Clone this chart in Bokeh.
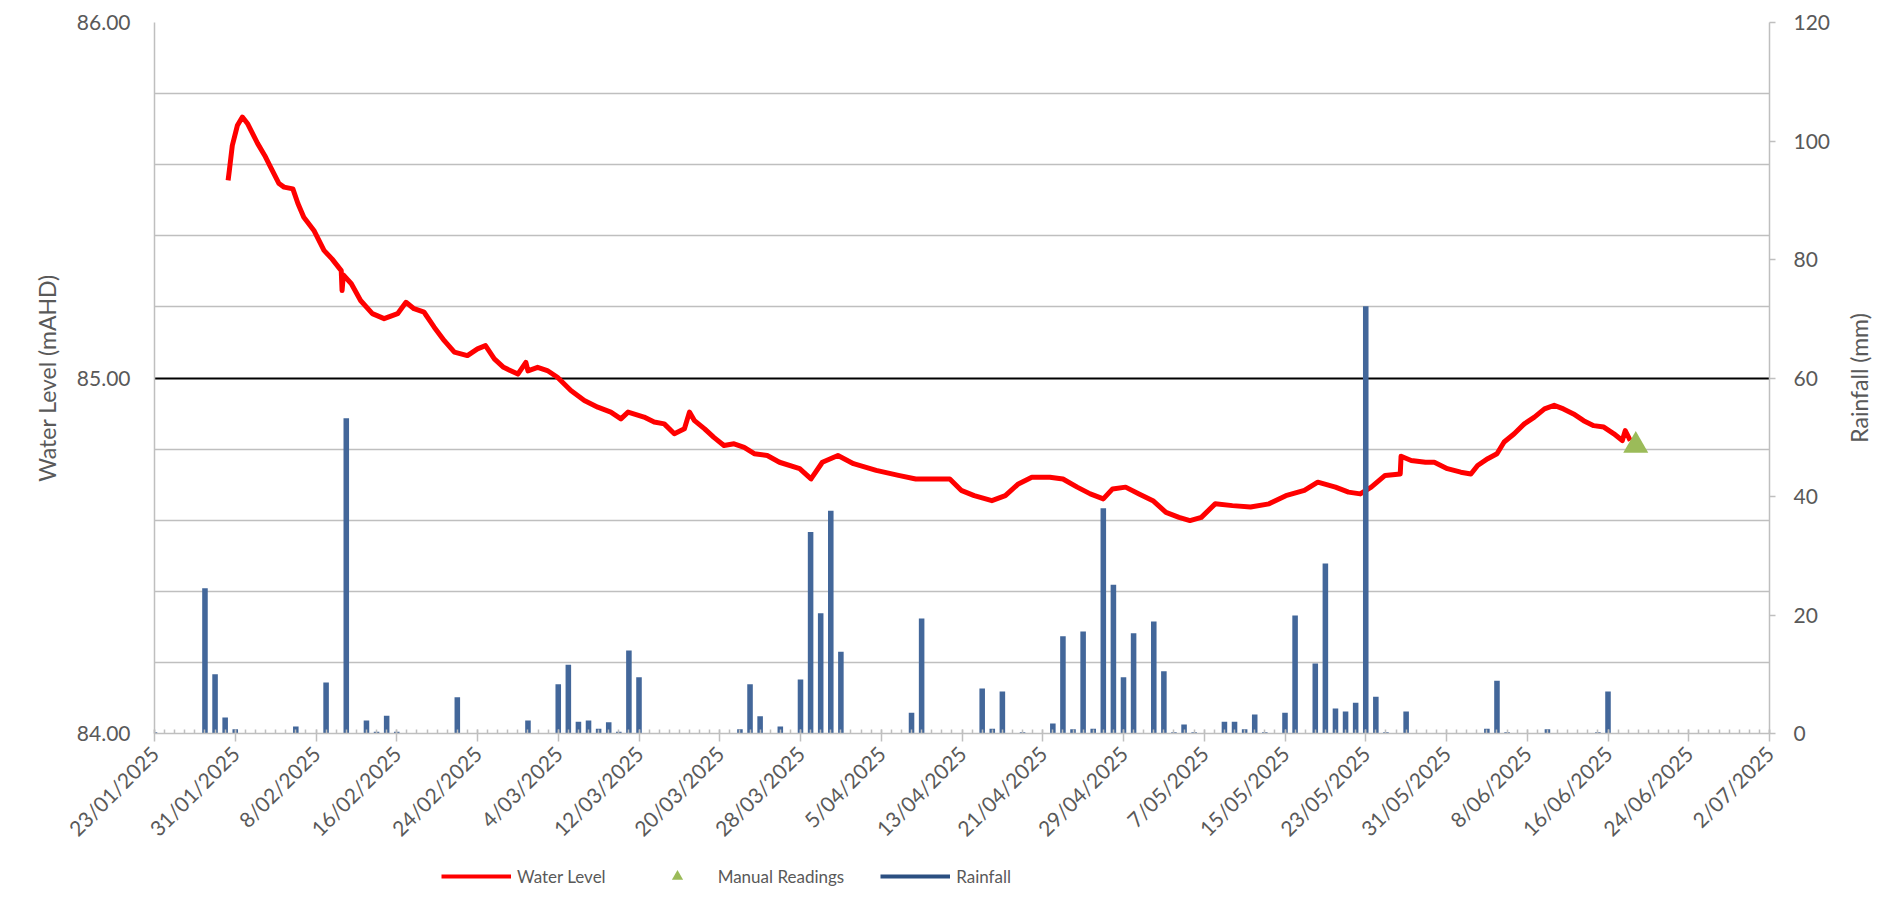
import math
import pandas as pd
from bokeh.plotting import figure
from bokeh.layouts import column, row
from bokeh.models import (Range1d, LinearAxis, FixedTicker, PrintfTickFormatter,
                          DatetimeTickFormatter, ColumnDataSource, Legend, LegendItem, Label)
from bokeh.embed import file_html
from bokeh.resources import INLINE

# ---------------- data ----------------
x_start = "2025-01-23"
x_end = "2025-07-02"

x_tick_dates = ["2025-01-23", "2025-01-31", "2025-02-08", "2025-02-16", "2025-02-24",
                "2025-03-04", "2025-03-12", "2025-03-20", "2025-03-28", "2025-04-05",
                "2025-04-13", "2025-04-21", "2025-04-29", "2025-05-07", "2025-05-15",
                "2025-05-23", "2025-05-31", "2025-06-08", "2025-06-16", "2025-06-24",
                "2025-07-02"]
x_tick_labels = ["23/01/2025", "31/01/2025", "8/02/2025", "16/02/2025", "24/02/2025",
                 "4/03/2025", "12/03/2025", "20/03/2025", "28/03/2025", "5/04/2025",
                 "13/04/2025", "21/04/2025", "29/04/2025", "7/05/2025", "15/05/2025",
                 "23/05/2025", "31/05/2025", "8/06/2025", "16/06/2025", "24/06/2025",
                 "2/07/2025"]

left_ticks = [84.0, 85.0, 86.0]
left_minor = [84.2, 84.4, 84.6, 84.8, 85.2, 85.4, 85.6, 85.8]
right_ticks = [0, 20, 40, 60, 80, 100, 120]

rain_dates = ["2025-01-23", "2025-01-28", "2025-01-29", "2025-01-30", "2025-01-31",
              "2025-02-06", "2025-02-09", "2025-02-11", "2025-02-13", "2025-02-14",
              "2025-02-15", "2025-02-16", "2025-02-22", "2025-03-01", "2025-03-04",
              "2025-03-05", "2025-03-06", "2025-03-07", "2025-03-08", "2025-03-09",
              "2025-03-10", "2025-03-11", "2025-03-12", "2025-03-22", "2025-03-23",
              "2025-03-24", "2025-03-26", "2025-03-28", "2025-03-29", "2025-03-30",
              "2025-03-31", "2025-04-01", "2025-04-08", "2025-04-09", "2025-04-15",
              "2025-04-16", "2025-04-17", "2025-04-19", "2025-04-22", "2025-04-23",
              "2025-04-24", "2025-04-25", "2025-04-26", "2025-04-27", "2025-04-28",
              "2025-04-29", "2025-04-30", "2025-05-02", "2025-05-03", "2025-05-04",
              "2025-05-05", "2025-05-06", "2025-05-09", "2025-05-10", "2025-05-11",
              "2025-05-12", "2025-05-13", "2025-05-15", "2025-05-16", "2025-05-18",
              "2025-05-19", "2025-05-20", "2025-05-21", "2025-05-22", "2025-05-23",
              "2025-05-24", "2025-05-25", "2025-05-27", "2025-06-04", "2025-06-05",
              "2025-06-06", "2025-06-10", "2025-06-15", "2025-06-16"]
rain_mm = [0.2, 24.5, 10.0, 2.7, 0.7,
           1.2, 8.6, 53.2, 2.2, 0.3,
           3.0, 0.3, 6.1, 2.2, 8.3,
           11.6, 2.0, 2.2, 0.8, 1.9,
           0.3, 14.0, 9.5, 0.7, 8.3,
           2.9, 1.2, 9.1, 34.0, 20.3,
           37.6, 13.8, 3.5, 19.4, 7.6,
           0.8, 7.1, 0.2, 1.7, 16.4,
           0.7, 17.2, 0.8, 38.0, 25.1,
           9.5, 16.9, 18.9, 10.5, 0.2,
           1.5, 0.2, 2.0, 2.0, 0.7,
           3.2, 0.2, 3.5, 19.9, 11.8,
           28.7, 4.2, 3.7, 5.2, 72.1,
           6.2, 0.2, 3.7, 0.8, 8.9,
           0.2, 0.7, 0.2, 7.1]

level_times = ["2025-01-30 07:00", "2025-01-30 10:00", "2025-01-30 17:00", "2025-01-31 05:00",
               "2025-01-31 17:00", "2025-02-01 05:00", "2025-02-01 17:00", "2025-02-02 05:00",
               "2025-02-02 22:00", "2025-02-03 12:00", "2025-02-04 08:00", "2025-02-04 20:00",
               "2025-02-05 17:00", "2025-02-06 05:00", "2025-02-06 19:00", "2025-02-07 19:00",
               "2025-02-08 19:00", "2025-02-09 14:00", "2025-02-10 12:00", "2025-02-10 14:00",
               "2025-02-10 17:00", "2025-02-11 12:00", "2025-02-12 10:00", "2025-02-13 14:00",
               "2025-02-14 18:00", "2025-02-16 02:00", "2025-02-16 22:00", "2025-02-17 17:00",
               "2025-02-18 17:00", "2025-02-19 17:00", "2025-02-20 17:00", "2025-02-21 17:00",
               "2025-02-23 00:00", "2025-02-24 00:00", "2025-02-24 19:00", "2025-02-25 16:00",
               "2025-02-26 14:00", "2025-02-28 00:00", "2025-02-28 19:00", "2025-03-01 00:00",
               "2025-03-01 23:00", "2025-03-02 22:00", "2025-03-03 22:00", "2025-03-05 06:00",
               "2025-03-06 14:00", "2025-03-07 22:00", "2025-03-09 05:00", "2025-03-10 05:00",
               "2025-03-10 22:00", "2025-03-12 12:00", "2025-03-13 12:00", "2025-03-14 12:00",
               "2025-03-15 12:00", "2025-03-16 12:00", "2025-03-17 00:00", "2025-03-17 12:00",
               "2025-03-18 12:00", "2025-03-19 10:00", "2025-03-20 10:00", "2025-03-21 10:00",
               "2025-03-22 10:00", "2025-03-23 10:00", "2025-03-24 17:00", "2025-03-25 22:00",
               "2025-03-27 22:00", "2025-03-29 01:00", "2025-03-30 04:00", "2025-03-31 17:00",
               "2025-04-02 06:00", "2025-04-04 12:00", "2025-04-06 17:00", "2025-04-08 10:00",
               "2025-04-10 16:00", "2025-04-11 19:00", "2025-04-12 22:00", "2025-04-14 05:00",
               "2025-04-15 23:00", "2025-04-17 07:00", "2025-04-18 14:00", "2025-04-19 22:00",
               "2025-04-21 17:00", "2025-04-23 00:00", "2025-04-24 10:00", "2025-04-25 17:00",
               "2025-04-27 00:00", "2025-04-27 22:00", "2025-04-29 05:00", "2025-04-30 13:00",
               "2025-05-01 22:00", "2025-05-03 05:00", "2025-05-04 12:00", "2025-05-05 14:00",
               "2025-05-06 17:00", "2025-05-08 02:00", "2025-05-09 19:00", "2025-05-11 14:00",
               "2025-05-13 10:00", "2025-05-15 02:00", "2025-05-16 22:00", "2025-05-18 06:00",
               "2025-05-20 00:00", "2025-05-21 07:00", "2025-05-22 11:00", "2025-05-23 13:00",
               "2025-05-24 22:00", "2025-05-26 10:00", "2025-05-26 12:00", "2025-05-27 12:00",
               "2025-05-28 22:00", "2025-05-29 19:00", "2025-05-31 02:00", "2025-06-01 10:00",
               "2025-06-02 10:00", "2025-06-03 02:00", "2025-06-04 02:00", "2025-06-05 00:00",
               "2025-06-05 17:00", "2025-06-06 17:00", "2025-06-07 17:00", "2025-06-08 17:00",
               "2025-06-09 17:00", "2025-06-10 16:00", "2025-06-11 14:00", "2025-06-12 14:00",
               "2025-06-13 14:00", "2025-06-14 14:00", "2025-06-15 14:00", "2025-06-16 14:00",
               "2025-06-17 10:00", "2025-06-17 17:00", "2025-06-18 05:00"]
level_m = [85.556, 85.584, 85.654, 85.710,
           85.734, 85.716, 85.688, 85.660,
           85.626, 85.593, 85.547, 85.537,
           85.532, 85.491, 85.452, 85.415,
           85.359, 85.335, 85.302, 85.246,
           85.290, 85.265, 85.218, 85.181,
           85.167, 85.181, 85.213, 85.195,
           85.185, 85.143, 85.105, 85.073,
           85.063, 85.082, 85.091, 85.054,
           85.030, 85.011, 85.044, 85.020,
           85.030, 85.021, 85.002, 84.965,
           84.937, 84.918, 84.904, 84.885,
           84.904, 84.890, 84.876, 84.871,
           84.843, 84.857, 84.904, 84.880,
           84.857, 84.833, 84.810, 84.815,
           84.805, 84.787, 84.782, 84.763,
           84.745, 84.716, 84.763, 84.782,
           84.759, 84.740, 84.726, 84.716,
           84.716, 84.716, 84.684, 84.669,
           84.655, 84.669, 84.702, 84.721,
           84.721, 84.716, 84.693, 84.674,
           84.660, 84.688, 84.693, 84.674,
           84.655, 84.622, 84.608, 84.599,
           84.608, 84.646, 84.641, 84.637,
           84.646, 84.669, 84.684, 84.707,
           84.693, 84.679, 84.674, 84.693,
           84.726, 84.730, 84.780, 84.768,
           84.763, 84.763, 84.745, 84.735,
           84.730, 84.754, 84.773, 84.787,
           84.820, 84.843, 84.871, 84.890,
           84.913, 84.923, 84.913, 84.899,
           84.880, 84.866, 84.862, 84.843,
           84.824, 84.852, 84.824]

manual_times = ["2025-06-18 18:00"]
manual_m = [84.81]

legend_labels = ["Water Level", "Manual Readings", "Rainfall"]
left_title = "Water Level (mAHD)"
right_title = "Rainfall (mm)"

# ---------------- styles ----------------
FONT = "Lato"
TXT = "#595959"
GREY = "#BFBFBF"
BAR = "#43679A"
RED = "#FF0000"
GREEN = "#9BBB59"
NAVY = "#2B4F81"
DAY_MS = 86400000
W_MAIN = 1833
W_SIDE = 40
H_MAIN = 855
H_LEG = 35
B_TOP, B_BOT = 22, 122


def ms(s):
    return pd.Timestamp(s).value // 10**6


tick_ms = [ms(d) for d in x_tick_dates]
minor_ms = [ms(d) for d in pd.date_range(x_start, x_end, freq="D")]

p = figure(width=W_MAIN, height=H_MAIN, x_axis_type="datetime",
           x_range=Range1d(ms(x_start), ms(x_end)), y_range=Range1d(84, 86),
           output_backend="svg", toolbar_location=None,
           min_border_left=154, min_border_right=64, min_border_top=B_TOP,
           min_border_bottom=B_BOT)
p.outline_line_color = None
p.background_fill_color = "white"
p.border_fill_color = "white"
p.extra_y_ranges = {"rain": Range1d(0, 120)}

# grid
p.xgrid.visible = False
p.ygrid.ticker = FixedTicker(ticks=[85.0, 86.0], minor_ticks=left_minor)
p.ygrid.grid_line_color = "black"
p.ygrid.grid_line_width = 2
p.ygrid.minor_grid_line_color = GREY
p.ygrid.minor_grid_line_width = 1.5

# left axis
ya = p.yaxis[0]
ya.ticker = FixedTicker(ticks=left_ticks, minor_ticks=[])
ya.formatter = PrintfTickFormatter(format="%.2f")
ya.major_tick_in = 0
ya.major_tick_out = 0
ya.minor_tick_in = 0
ya.minor_tick_out = 0
ya.major_label_standoff = 24
ya.axis_label = left_title
ya.axis_label_standoff = 13

# right axis
ra = LinearAxis(y_range_name="rain", ticker=FixedTicker(ticks=right_ticks, minor_ticks=[]))
ra.major_tick_in = 0
ra.major_tick_out = 6
ra.minor_tick_in = 0
ra.minor_tick_out = 0
ra.major_label_standoff = 18
p.add_layout(ra, "right")

# bottom axis
xa = p.xaxis[0]
xa.ticker = FixedTicker(ticks=tick_ms, minor_ticks=minor_ms)
fmt = "%-d/%m/%Y"
xa.formatter = DatetimeTickFormatter(microseconds=fmt, milliseconds=fmt, seconds=fmt,
                                     minsec=fmt, minutes=fmt, hourmin=fmt, hours=fmt,
                                     days=fmt, months=fmt, years=fmt)
xa.major_label_overrides = {int(t): lab for t, lab in zip(tick_ms, x_tick_labels)}
xa.major_label_orientation = math.pi / 4
xa.major_tick_in = 4
xa.major_tick_out = 8
xa.minor_tick_in = 4
xa.minor_tick_out = 0
xa.major_label_standoff = 8

for ax in (xa, ya, ra):
    ax.axis_line_color = GREY
    ax.axis_line_width = 1.5
    ax.major_tick_line_color = GREY
    ax.major_tick_line_width = 1.5
    ax.minor_tick_line_color = GREY
    ax.minor_tick_line_width = 1.5
    ax.major_label_text_font = FONT
    ax.major_label_text_font_size = "21px"
    ax.major_label_text_color = TXT
    ax.axis_label_text_font = FONT
    ax.axis_label_text_font_size = "23px"
    ax.axis_label_text_font_style = "normal"
    ax.axis_label_text_color = TXT

# series
level_src = ColumnDataSource(dict(t=pd.to_datetime(level_times), v=level_m))
p.line(x="t", y="v", source=level_src, line_color=RED, line_width=5, line_join="round")

rain_src = ColumnDataSource(dict(t=pd.to_datetime(rain_dates), v=rain_mm))
p.vbar(x="t", top="v", bottom=0, width=0.55 * DAY_MS, source=rain_src,
       y_range_name="rain", fill_color=BAR, line_color=None)

man_src = ColumnDataSource(dict(t=pd.to_datetime(manual_times), v=manual_m))
p.scatter(x="t", y="v", source=man_src, marker="triangle", size=25,
          fill_color=GREEN, line_color=None)

# ---------------- right-axis title strip (reads bottom-to-top) ----------------
side = figure(width=W_SIDE, height=H_MAIN, output_backend="svg", toolbar_location=None,
              x_range=Range1d(0, 1), y_range=Range1d(0, 1),
              x_axis_location=None, y_axis_location=None,
              min_border_left=0, min_border_right=0,
              min_border_top=B_TOP, min_border_bottom=B_BOT)
side.outline_line_color = None
side.grid.visible = False
side.background_fill_color = "white"
side.border_fill_color = "white"
side.add_layout(Label(x=25, y=(H_MAIN - B_TOP - B_BOT) / 2, x_units="screen",
                      y_units="screen", text=right_title, angle=math.pi / 2,
                      text_align="center", text_baseline="middle", text_font=FONT,
                      text_font_size="23px", text_color=TXT))

# ---------------- legend strip ----------------
lg = figure(width=W_MAIN + W_SIDE, height=H_LEG, output_backend="svg",
            toolbar_location=None, x_range=Range1d(0, 1), y_range=Range1d(0, 1),
            x_axis_location=None, y_axis_location=None,
            min_border_left=154, min_border_right=0, min_border_top=0,
            min_border_bottom=0)
lg.outline_line_color = None
lg.grid.visible = False
lg.background_fill_color = "white"
lg.border_fill_color = "white"
# legend keys only (outside the strip's visible range)
k1 = lg.line(x=[5, 6], y=[5, 5], line_color=RED, line_width=4)
k2 = lg.scatter(x=[5], y=[5], marker="triangle", size=12, fill_color=GREEN, line_color=None)
k3 = lg.line(x=[5, 6], y=[5, 5], line_color=NAVY, line_width=4)

legend = Legend(items=[LegendItem(label=legend_labels[0], renderers=[k1]),
                       LegendItem(label=legend_labels[1], renderers=[k2]),
                       LegendItem(label=legend_labels[2], renderers=[k3])],
                orientation="horizontal", location=(287, 0),
                glyph_width=70, glyph_height=28, label_height=18, label_standoff=6,
                spacing=36, padding=0, margin=0, border_line_color=None,
                background_fill_alpha=0, label_text_font=FONT,
                label_text_font_size="17px", label_text_color=TXT)
lg.add_layout(legend)

layout = column(row(p, side, spacing=0), lg, spacing=0)
open("out.html", "w").write(file_html(layout, INLINE))
